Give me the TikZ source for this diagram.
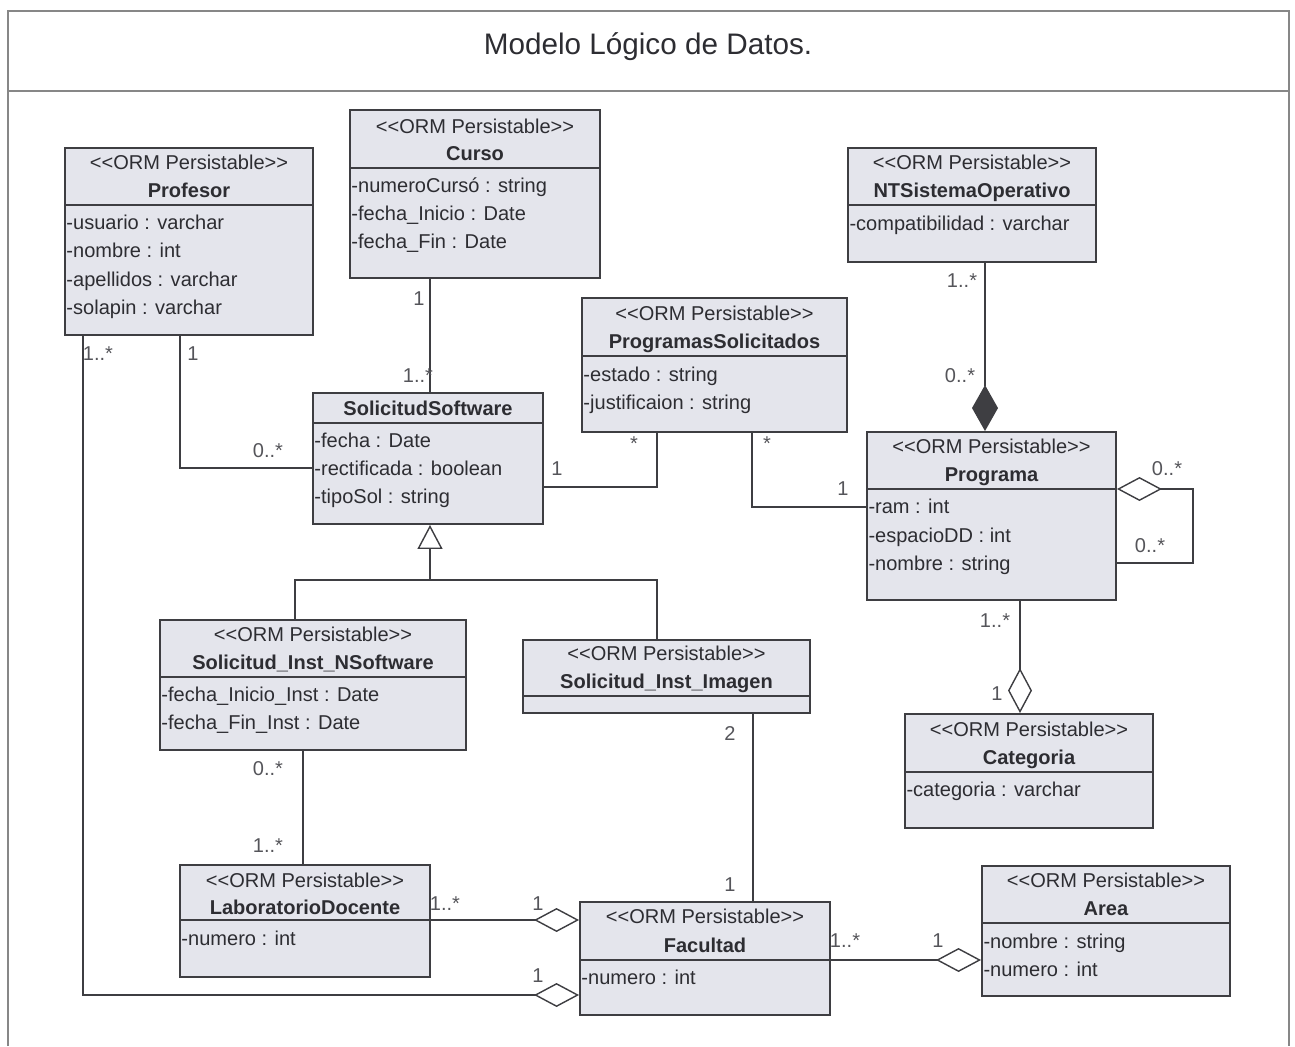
\documentclass[tikz,border=0pt]{standalone}
\usepackage{fontspec}
\setmainfont{Liberation Sans}[Ligatures=TeXOff]
\usepackage{tikz}
\usetikzlibrary{arrows.meta}
\usetikzlibrary{fit}
\definecolor{boxfill}{RGB}{228,229,236}
\definecolor{boxline}{RGB}{62,62,66}
\definecolor{txtcol}{RGB}{45,45,50}
\definecolor{multcol}{RGB}{85,85,90}
\definecolor{framecol}{RGB}{135,135,135}
\tikzset{
  classbox/.style={draw=boxline, fill=boxfill, line width=1.1pt, inner sep=0pt},
  sepline/.style={draw=boxline, line width=1.1pt},
  basetxt/.style={inner sep=0pt, text height=8.2pt, text depth=0pt, font=\fontsize{11.4}{13}\selectfont},
  stereotxt/.style={basetxt, text=txtcol},
  nametxt/.style={basetxt, text=txtcol, font=\fontsize{11.4}{13}\selectfont\bfseries},
  attrtxt/.style={basetxt, text=txtcol, anchor=west, xshift=1.2pt},
  multtxt/.style={basetxt, text=multcol},
  assoc/.style={draw=boxline, line width=0.8pt},
  odiamond/.tip={Diamond[fill=white, length=0.9cm, width=0.48cm]},
  fdiamond/.tip={Diamond[fill=boxline, length=0.92cm, width=0.52cm]},
  otriangle/.tip={Triangle[fill=white, length=0.48cm, width=0.5cm]}
}
% box: name, x1, y1, x2, y2, y of the separator line
\newcommand{\umlclass}[6]{\node[classbox, fit={(#2,#3) (#4,#5)}] (#1) {};
  \draw[sepline] (#1.west |- 0,#6) -- (#1.east |- 0,#6);}
\newcommand{\stereo}[3]{\node[stereotxt] (#1) at (#2.north |- 0,#3) {<<ORM Persistable>>};}
\newcommand{\cname}[4]{\node[nametxt] (#1) at (#2.north |- 0,#3) {#4};}
\newcommand{\attr}[4]{\node[attrtxt] (#1) at (#2.west |- 0,#3) {#4};}
\newcommand{\mult}[4]{\node[multtxt] (#1) at (#2,#3) {#4};}

\begin{document}
\begin{tikzpicture}[x=0.02cm, y=-0.02cm]
        \useasboundingbox (0,0) rectangle (1295,1046);
        % frame and title
        \draw[framecol, line width=0.8pt] (8,1046) -- (8,11) -- (1289,11) -- (1289,1046);
        \draw[framecol, line width=0.8pt] (8,91) -- (1289,91);
        \node[text=txtcol, inner sep=0pt, font=\fontsize{16.9}{19}\selectfont] (title) at (648,47) {Modelo Lógico de Datos.};

        % Profesor
        \umlclass{prof}{65}{148}{313}{335}{205}
        \stereo{prof-s}{prof}{162}
        \cname{prof-n}{prof}{190}{Profesor}
        \attr{prof-a1}{prof}{222}{-usuario : varchar}
        \attr{prof-a2}{prof}{250}{-nombre : int}
        \attr{prof-a3}{prof}{279}{-apellidos : varchar}
        \attr{prof-a4}{prof}{307}{-solapin : varchar}

        % Curso
        \umlclass{curso}{350}{110}{600}{278}{168}
        \stereo{curso-s}{curso}{126}
        \cname{curso-n}{curso}{153}{Curso}
        \attr{curso-a1}{curso}{185}{-numeroCursó : string}
        \attr{curso-a2}{curso}{213}{-fecha\_Inicio : Date}
        \attr{curso-a3}{curso}{241}{-fecha\_Fin : Date}

        % NTSistemaOperativo
        \umlclass{ntso}{848}{148}{1096}{262}{205}
        \stereo{ntso-s}{ntso}{162}
        \cname{ntso-n}{ntso}{190}{NTSistemaOperativo}
        \attr{ntso-a1}{ntso}{223}{-compatibilidad : varchar}

        % ProgramasSolicitados
        \umlclass{progsol}{582}{298}{847}{432}{356}
        \stereo{progsol-s}{progsol}{313}
        \cname{progsol-n}{progsol}{341}{ProgramasSolicitados}
        \attr{progsol-a1}{progsol}{374}{-estado : string}
        \attr{progsol-a2}{progsol}{402}{-justificaion : string}

        % SolicitudSoftware
        \umlclass{solsw}{313}{393}{543}{524}{423}
        \cname{solsw-n}{solsw}{408}{SolicitudSoftware}
        \attr{solsw-a1}{solsw}{440}{-fecha : Date}
        \attr{solsw-a2}{solsw}{468}{-rectificada : boolean}
        \attr{solsw-a3}{solsw}{496}{-tipoSol : string}

        % Programa
        \umlclass{prog}{867}{432}{1116}{600}{489}
        \stereo{prog-s}{prog}{446}
        \cname{prog-n}{prog}{474}{Programa}
        \attr{prog-a1}{prog}{506}{-ram : int}
        \attr{prog-a2}{prog}{535}{-espacioDD : int}
        \attr{prog-a3}{prog}{563}{-nombre : string}

        % Solicitud_Inst_NSoftware
        \umlclass{nsw}{160}{620}{466}{750}{677}
        \stereo{nsw-s}{nsw}{634}
        \cname{nsw-n}{nsw}{662}{Solicitud\_Inst\_NSoftware}
        \attr{nsw-a1}{nsw}{694}{-fecha\_Inicio\_Inst : Date}
        \attr{nsw-a2}{nsw}{722}{-fecha\_Fin\_Inst : Date}

        % Solicitud_Inst_Imagen
        \umlclass{imagen}{523}{640}{810}{713}{696}
        \stereo{imagen-s}{imagen}{653}
        \cname{imagen-n}{imagen}{681}{Solicitud\_Inst\_Imagen}

        % Categoria
        \umlclass{cat}{905}{714}{1153}{828}{772}
        \stereo{cat-s}{cat}{729}
        \cname{cat-n}{cat}{757}{Categoria}
        \attr{cat-a1}{cat}{789}{-categoria : varchar}

        % LaboratorioDocente
        \umlclass{labdoc}{180}{865}{430}{977}{920}
        \stereo{labdoc-s}{labdoc}{880}
        \cname{labdoc-n}{labdoc}{907}{LaboratorioDocente}
        \attr{labdoc-a1}{labdoc}{938}{-numero : int}

        % Facultad
        \umlclass{fac}{580}{902}{830}{1015}{960}
        \stereo{fac-s}{fac}{916}
        \cname{fac-n}{fac}{945}{Facultad}
        \attr{fac-a1}{fac}{977}{-numero : int}

        % Area
        \umlclass{area}{982}{866}{1230}{996}{923}
        \stereo{area-s}{area}{880}
        \cname{area-n}{area}{908}{Area}
        \attr{area-a1}{area}{941}{-nombre : string}
        \attr{area-a2}{area}{969}{-numero : int}

        % associations
        \draw[assoc] (180,0 |- prof.south) |- (solsw.west |- 0,468);
        \draw[assoc, -odiamond] (83,0 |- prof.south) |- (fac.west |- 0,995);
        \draw[assoc] (430,0 |- curso.south) -- (430,0 |- solsw.north);
        \draw[assoc] (solsw.east |- 0,487) -| (657,0 |- progsol.south);
        \draw[assoc] (752,0 |- progsol.south) |- (prog.west |- 0,507);
        \draw[assoc, -fdiamond] (985,0 |- ntso.south) -- (985,0 |- prog.north);
        \draw[assoc, odiamond-] (prog.east |- 0,489) -| ++(76,74) -- (prog.east |- 0,563);
        \draw[assoc, -odiamond] (1020,0 |- prog.south) -- (1020,0 |- cat.north);
        \draw[assoc] (303,0 |- nsw.south) -- (303,0 |- labdoc.north);
        \draw[assoc] (753,0 |- imagen.south) -- (753,0 |- fac.north);
        \draw[assoc, -odiamond] (labdoc.east |- 0,920) -- (fac.west |- 0,920);
        \draw[assoc, -odiamond] (fac.east |- 0,960) -- (area.west |- 0,960);

        % generalization
        \coordinate (genjoin) at (430,580);
        \draw[assoc] (295,0 |- nsw.north) |- (genjoin) -| (657,0 |- imagen.north);
        \draw[assoc, -otriangle] (genjoin) -- (430,0 |- solsw.south);

        % multiplicities
        \mult{m1}{98}{353}{1..*}
        \mult{m2}{193}{353}{1}
        \mult{m3}{268}{450}{0..*}
        \mult{m4}{419}{298}{1}
        \mult{m5}{418}{375}{1..*}
        \mult{m6}{557}{468}{1}
        \mult{m7}{634}{443}{*}
        \mult{m8}{767}{443}{*}
        \mult{m9}{843}{488}{1}
        \mult{m10}{962}{280}{1..*}
        \mult{m11}{960}{375}{0..*}
        \mult{m12}{1167}{468}{0..*}
        \mult{m13}{1150}{545}{0..*}
        \mult{m14}{995}{620}{1..*}
        \mult{m15}{997}{693}{1}
        \mult{m16}{268}{768}{0..*}
        \mult{m17}{268}{845}{1..*}
        \mult{m18}{730}{733}{2}
        \mult{m19}{730}{884}{1}
        \mult{m20}{445}{903}{1..*}
        \mult{m21}{538}{903}{1}
        \mult{m22}{538}{975}{1}
        \mult{m23}{845}{940}{1..*}
        \mult{m24}{938}{940}{1}
    \end{tikzpicture}
\end{document}
